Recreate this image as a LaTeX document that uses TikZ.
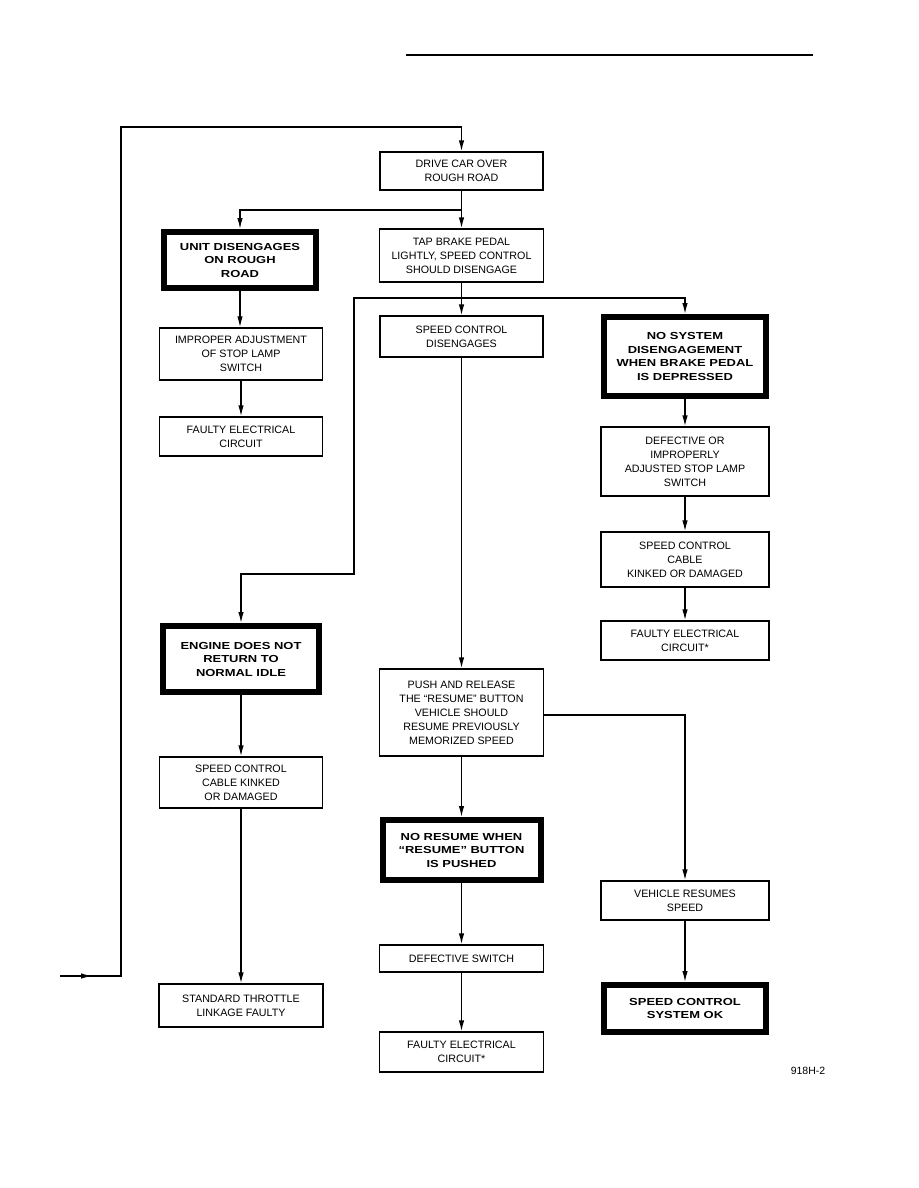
\documentclass[tikz,border=0pt]{standalone}
\usepackage{fontspec}
\setmainfont{Liberation Sans}
\newfontfamily\heavyfont[FakeStretch=1.27]{Liberation Sans}
\usetikzlibrary{arrows.meta}

\tikzset{
  plainbox/.style={draw, line width=1.3pt, align=center, inner sep=0pt,
    font=\fontsize{10.7}{14}\selectfont},
  alarmbox/.style={draw, line width=6pt, align=center, inner sep=0pt,
    font=\heavyfont\bfseries\fontsize{10.2}{13.5}\selectfont},
  flow/.style={line width=1.3pt, -{Latex[length=11pt,width=5.5pt]}},
  wire/.style={line width=1.3pt},
}

\begin{document}
\begin{tikzpicture}[x=1pt,y=-1pt]
		% Page frame, same size as the scanned sheet
		\useasboundingbox (0,0) rectangle (918,1188);
		
		% Rule at the head of the page
		\draw[line width=2.5pt] (406,55) -- (813,55);
		
		% Middle column
		\node[plainbox, minimum width=163pt, minimum height=38pt] (drive) at (461.5,171) {DRIVE CAR OVER\\ROUGH ROAD};
		\node[plainbox, minimum width=164pt, minimum height=53pt] (tap) at (461.5,255.5) {TAP BRAKE PEDAL\\LIGHTLY, SPEED CONTROL\\SHOULD DISENGAGE};
		\node[plainbox, minimum width=163pt, minimum height=41pt] (disengages) at (461.5,336.5) {SPEED CONTROL\\DISENGAGES};
		\node[plainbox, minimum width=164pt, minimum height=87pt] (push) at (461.5,712.5) {PUSH AND RELEASE\\THE “RESUME” BUTTON\\VEHICLE SHOULD\\RESUME PREVIOUSLY\\MEMORIZED SPEED};
		\node[alarmbox, minimum width=158pt, minimum height=60pt] (noresume) at (461.5,850) {NO RESUME WHEN\\“RESUME” BUTTON\\IS PUSHED};
		\node[plainbox, minimum width=164pt, minimum height=27pt] (defswitch) at (461.5,958.5) {DEFECTIVE SWITCH};
		\node[plainbox, minimum width=164pt, minimum height=40pt] (faultyC) at (461.5,1052) {FAULTY ELECTRICAL\\CIRCUIT*};
		
		% Left column
		\node[alarmbox, minimum width=152pt, minimum height=56pt] (unit) at (240,260) {UNIT DISENGAGES\\ON ROUGH\\ROAD};
		\node[plainbox, minimum width=163pt, minimum height=52pt] (improper) at (241,354) {IMPROPER ADJUSTMENT\\OF STOP LAMP\\SWITCH};
		\node[plainbox, minimum width=163pt, minimum height=39pt] (faultyA) at (241,436.5) {FAULTY ELECTRICAL\\CIRCUIT};
		\node[alarmbox, minimum width=156pt, minimum height=66pt] (engine) at (241,659) {ENGINE DOES NOT\\RETURN TO\\NORMAL IDLE};
		\node[plainbox, minimum width=163pt, minimum height=51pt] (cableB) at (241,782.5) {SPEED CONTROL\\CABLE KINKED\\OR DAMAGED};
		\node[plainbox, minimum width=164pt, minimum height=43pt] (throttle) at (241,1005.5) {STANDARD THROTTLE\\LINKAGE FAULTY};
		
		% Right column
		\node[alarmbox, minimum width=162pt, minimum height=79pt] (nosystem) at (685,356.5) {NO SYSTEM\\DISENGAGEMENT\\WHEN BRAKE PEDAL\\IS DEPRESSED};
		\node[plainbox, minimum width=168pt, minimum height=69pt] (defective) at (685,461.5) {DEFECTIVE OR\\IMPROPERLY\\ADJUSTED STOP LAMP\\SWITCH};
		\node[plainbox, minimum width=168pt, minimum height=55pt] (cableA) at (685,559.5) {SPEED CONTROL\\CABLE\\KINKED OR DAMAGED};
		\node[plainbox, minimum width=168pt, minimum height=39pt] (faultyB) at (685,640.5) {FAULTY ELECTRICAL\\CIRCUIT*};
		\node[plainbox, minimum width=168pt, minimum height=39pt] (resumes) at (685,900.5) {VEHICLE RESUMES\\SPEED};
		\node[alarmbox, minimum width=162pt, minimum height=47pt] (ok) at (685,1008.5) {SPEED CONTROL\\SYSTEM OK};
		
		% Figure number
		\node[font=\fontsize{10.5}{12}\selectfont] (figno) at (808,1071) {918H-2};
		
		% Branch points and bends
		\coordinate (j1) at (461.5,210);
		\coordinate (j2) at (461.5,298);
		\coordinate (bend) at (354,574);
		\coordinate (j3) at (543.5,715);
		\coordinate (loopin) at (60,976);
		\coordinate (loopmid) at (92,976);
		\coordinate (loopcorner) at (121,127);
		
		% Return loop into the first step
		\draw[flow] (loopin) -| (loopcorner) -| (drive.north);
		\draw[flow] (loopin) -- (loopmid);
		
		% First split
		\draw[wire] (drive.south) -- (j1);
		\draw[flow] (j1) -- (tap.north);
		\draw[flow] (j1) -| (unit.north);
		\draw[flow] (unit.south) -- (unit.south |- improper.north);
		\draw[flow] (improper.south) -- (faultyA.north);
		
		% Second split
		\draw[wire] (tap.south) -- (j2);
		\draw[flow] (j2) -- (disengages.north);
		\draw[flow] (j2) -| (nosystem.north);
		\draw[flow] (j2) -| (bend) -| (engine.north);
		
		% Right column chain
		\draw[flow] (nosystem.south) -- (defective.north);
		\draw[flow] (defective.south) -- (cableA.north);
		\draw[flow] (cableA.south) -- (faultyB.north);
		
		% Left column chain
		\draw[flow] (engine.south) -- (cableB.north);
		\draw[flow] (cableB.south) -- (throttle.north);
		
		% Resume test
		\draw[flow] (disengages.south) -- (push.north);
		\draw[flow] (push.south) -- (noresume.north);
		\draw[flow] (noresume.south) -- (defswitch.north);
		\draw[flow] (defswitch.south) -- (faultyC.north);
		\draw[flow] (j3) -| (resumes.north);
		\draw[flow] (resumes.south) -- (ok.north);
	\end{tikzpicture}
\end{document}
